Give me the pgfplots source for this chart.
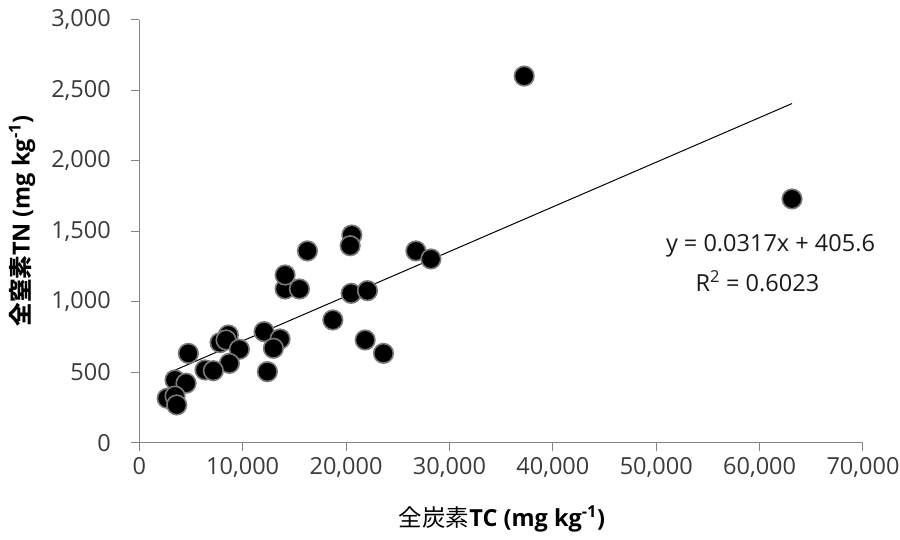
\documentclass[border=0pt]{standalone}
\usepackage{fontspec}
\setmainfont{Open Sans}
\newfontfamily\cjk{Noto Sans CJK JP}
\usepackage{pgfplots}
\pgfplotsset{compat=1.18}
\definecolor{axisgray}{HTML}{868686}
\definecolor{ticktext}{HTML}{3A3A3A}
\definecolor{markedge}{HTML}{7A7A7A}

\begin{document}
\begin{tikzpicture}
\useasboundingbox (0,0) rectangle (900pt,540pt);
\begin{axis}[
  scale only axis,
  width=723.7pt, height=422.7pt,
  at={(139.3pt,97.3pt)}, anchor=south west,
  xmin=0, xmax=70000, ymin=0, ymax=3000,
  xtick={0,10000,...,70000},
  ytick={0,500,...,3000},
  scaled ticks=false,
  axis x line*=bottom, axis y line*=left,
  axis line style={draw=axisgray, line width=1pt, -},
  tick style={draw=axisgray, line width=1pt},
  tick align=outside,
  major tick length=8pt,
  clip=false,
  /pgf/number format/.cd, 1000 sep={,}, assume math mode=true,
  /pgfplots/.cd,
  ticklabel style={font=\fontsize{23.5}{28}\selectfont, text=ticktext},
  yticklabel style={xshift=-17pt},
  xticklabel style={yshift=-3pt},
]
% linear trend line, y = 0.0317x + 405.6, over the range of the data
\addplot[black, line width=1pt] coordinates {(2700,491.2) (63135,2407.0)};

% total carbon vs total nitrogen
\addplot[only marks, mark=*, mark size=9.8pt,
  mark options={fill=black, draw=markedge, line width=1.6pt}]
  table {
x y
20560 1474
20396 1398
16262 1361
26756 1361
28208 1304
14104 1091
14104 1190
15488 1091
20493 1060
22070 1079
18721 871
12071 788
13620 736
12971 670
21848 729
23619 634
8615 764
7812 710
8393 729
9680 663
4743 634
8712 563
6360 516
7163 511
12390 504
3456 445
4521 422
2700 315
3456 331
3620 268
37230 2602
63135 1730
};

\node[font=\fontsize{23.5}{28}\selectfont, text=black!90] at (axis cs:61050,1396) {y = 0.0317x + 405.6};
\node[font=\fontsize{23.5}{28}\selectfont, text=black!90] at (axis cs:59790,1148) {R\textsuperscript{2} = 0.6023};
\end{axis}

\node[rotate=90, font=\fontsize{23.5}{28}\selectfont\bfseries] at (22pt,319pt)
  {{\cjk\bfseries 全窒素}TN (mg kg\textsuperscript{-1})};
\node[font=\fontsize{23.5}{28}\selectfont] at (502pt,21pt)
  {{\cjk 全炭素}\textbf{TC (mg kg\textsuperscript{-1})}};
\end{tikzpicture}
\end{document}
